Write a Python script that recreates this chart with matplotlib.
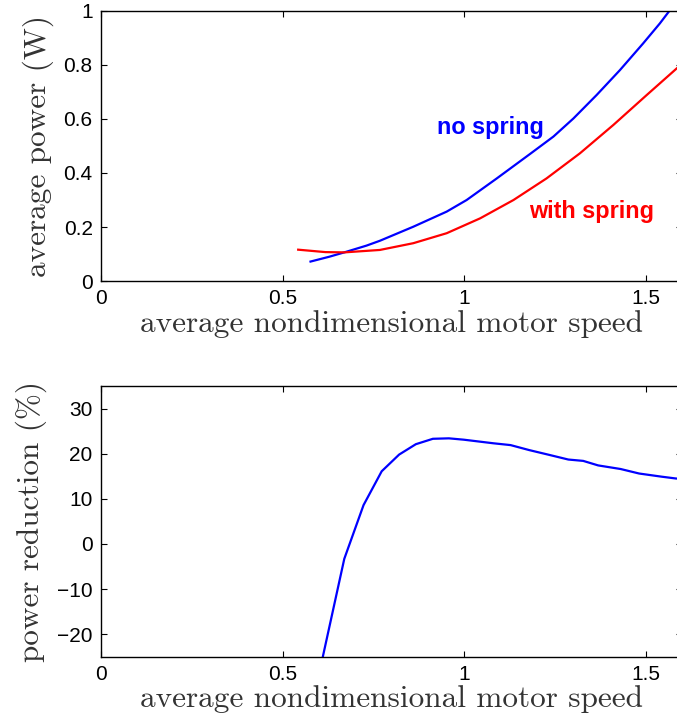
import matplotlib
matplotlib.use("Agg")
import matplotlib.pyplot as plt

# ---- data ----
speed_no_spring = [0.577, 0.629, 0.670, 0.731, 0.768, 0.860, 0.952, 1.007, 1.090, 1.181, 1.246,
                   1.301, 1.365, 1.429, 1.493, 1.539, 1.565, 1.600]
power_no_spring = [0.072, 0.090, 0.106, 0.131, 0.149, 0.201, 0.257, 0.300, 0.380, 0.470, 0.535,
                   0.602, 0.689, 0.781, 0.880, 0.954, 1.000, 1.060]

speed_with_spring = [0.543, 0.618, 0.670, 0.768, 0.860, 0.952, 1.044, 1.136, 1.227, 1.319,
                     1.411, 1.503, 1.586, 1.600]
power_with_spring = [0.116, 0.107, 0.106, 0.115, 0.140, 0.177, 0.232, 0.300, 0.380, 0.473,
                     0.578, 0.689, 0.788, 0.805]

speed_red = [0.600, 0.670, 0.723, 0.773, 0.821, 0.867, 0.914, 0.958, 0.999, 1.040, 1.081, 1.128,
             1.179, 1.236, 1.287, 1.328, 1.369, 1.431, 1.482, 1.544, 1.583, 1.600]
reduction = [-29.0, -3.3, 8.6, 16.1, 19.8, 22.1, 23.3, 23.4, 23.1, 22.7, 22.3, 21.9,
             20.8, 19.7, 18.7, 18.4, 17.4, 16.6, 15.6, 14.9, 14.5, 14.4]

xticks = [0, 0.5, 1, 1.5]
xticklabels = ["0", "0.5", "1", "1.5"]
yticks_top = [0, 0.2, 0.4, 0.6, 0.8, 1]
yticklabels_top = ["0", "0.2", "0.4", "0.6", "0.8", "1"]
yticks_bot = [-20, -10, 0, 10, 20, 30]
yticklabels_bot = ["\u221220", "\u221210", "0", "10", "20", "30"]

W, H = 677, 725
fig = plt.figure(figsize=(W / 100, H / 100), dpi=100)

label_font = dict(family="cmr10", size=22.5, color="#333333")

def style(ax):
    for s in ax.spines.values():
        s.set_linewidth(1.0)
        s.set_color("black")
    ax.tick_params(direction="in", length=4, width=0.8, top=True, right=True,
                   labelsize=15, pad=6)
    for lab in ax.get_xticklabels() + ax.get_yticklabels():
        lab.set_fontfamily("Liberation Sans")

# top axes
ax1 = fig.add_axes([101 / W, (H - 281) / H, 581 / W, 270 / H])
ax1.plot(speed_no_spring, power_no_spring, color="#0000ff", lw=1.6)
ax1.plot(speed_with_spring, power_with_spring, color="#ff0000", lw=1.6)
ax1.set_xlim(0, 1.6)
ax1.set_ylim(0, 1)
ax1.set_xticks(xticks)
ax1.set_xticklabels(xticklabels)
ax1.set_yticks(yticks_top)
ax1.set_yticklabels(yticklabels_top)
style(ax1)
ax1.set_xlabel("average nondimensional motor speed", fontdict=label_font, labelpad=1)
ax1.set_ylabel("average power (W)", fontdict=label_font, labelpad=7)
ax1.text(0.925, 0.567, "no spring", color="#0000ff", fontsize=16.8, fontweight="bold",
         family="Liberation Sans", va="center", ha="left")
ax1.text(1.178, 0.256, "with spring", color="#ff0000", fontsize=16.8, fontweight="bold",
         family="Liberation Sans", va="center", ha="left")

# bottom axes
ax2 = fig.add_axes([101 / W, (H - 656.7) / H, 581 / W, 270.7 / H])
ax2.plot(speed_red, reduction, color="#0000ff", lw=1.6)
ax2.set_xlim(0, 1.6)
ax2.set_ylim(-25, 35)
ax2.set_xticks(xticks)
ax2.set_xticklabels(xticklabels)
ax2.set_yticks(yticks_bot)
ax2.set_yticklabels(yticklabels_bot)
style(ax2)
ax2.set_xlabel("average nondimensional motor speed", fontdict=label_font, labelpad=1)
ax2.set_ylabel("power reduction (%)", fontdict=label_font, labelpad=7)

fig.savefig("out.png", dpi=100)
